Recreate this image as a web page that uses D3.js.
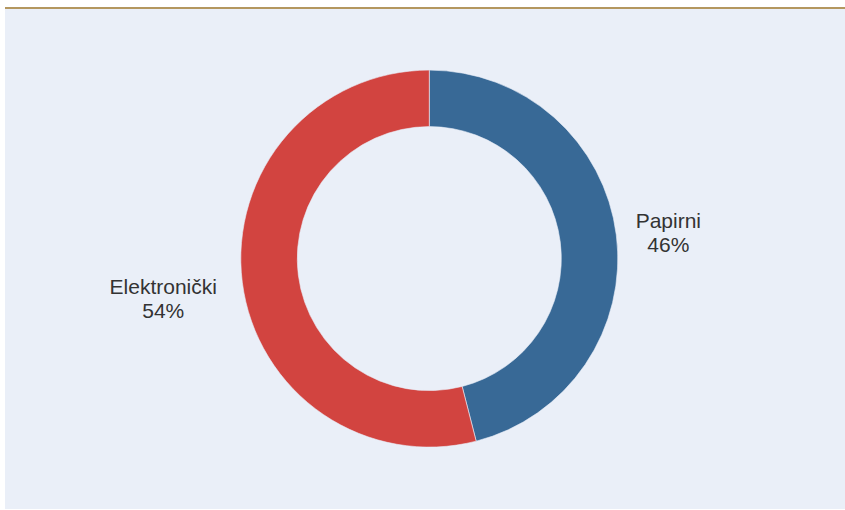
<!DOCTYPE html>
<html>
<head>
<meta charset="utf-8">
<script src="https://cdn.jsdelivr.net/npm/d3@7"></script>
<style>
  html, body { margin: 0; padding: 0; background: #fff; }
</style>
</head>
<body>
<div id="chart"></div>
<script>
// podaci
const categories = ["Papirni", "Elektronički"];
const shares = [46, 54];
const sliceColors = ["#386996", "#D24440"];

const width = 845;
const height = 510;

const svg = d3.select("#chart").append("svg")
    .attr("width", width)
    .attr("height", height)
    .style("display", "block")
    .style("font-family", "'Liberation Sans', Arial, Helvetica, sans-serif");

// pozadina panela
svg.append("rect")
    .attr("x", 5).attr("y", 7)
    .attr("width", width - 5).attr("height", 502)
    .attr("fill", "#EAEFF8");

svg.append("line")
    .attr("x1", 5).attr("x2", width)
    .attr("y1", 8).attr("y2", 8)
    .attr("stroke", "#B4975F")
    .attr("stroke-width", 2);

const cx = 429.3, cy = 258.6;
const outerR = 188.5, innerR = 132;

const data = categories.map((c, i) => ({ name: c, value: shares[i], color: sliceColors[i] }));

const pie = d3.pie().sort(null).value(d => d.value);
const arc = d3.arc().innerRadius(innerR).outerRadius(outerR);
const labelArc = d3.arc().innerRadius(208).outerRadius(208);

const g = svg.append("g").attr("transform", `translate(${cx},${cy})`);

const arcs = pie(data);

g.selectAll("path")
    .data(arcs)
    .join("path")
    .attr("d", arc)
    .attr("fill", d => d.data.color)
    .attr("stroke", "#EAEFF8")
    .attr("stroke-width", 0.6);

// labele
const fontSize = 21;
const lineH = 24;
const nudge = { "Papirni": [0, 0], "Elektronički": [-6, 14] }; // pomak labela

arcs.forEach(d => {
    const [lx, ly] = labelArc.centroid(d);
    const mid = (d.startAngle + d.endAngle) / 2;
    const right = Math.sin(mid) > 0;
    const t = g.append("text")
        .style("font-size", fontSize + "px")
        .attr("fill", "#333333")
        .attr("text-anchor", "middle");
    const lines = [d.data.name, d.data.value + "%"];
    lines.forEach((s, i) => {
        t.append("tspan").attr("x", 0).attr("dy", i === 0 ? 0 : lineH).text(s);
    });
    const w = d3.max(t.selectAll("tspan").nodes(), n => n.getComputedTextLength());
    const [nx, ny] = nudge[d.data.name];
    const x = (right ? lx + w / 2 : lx - w / 2) + nx;
    const y = ly + ny - lineH / 2 + fontSize * 0.36;
    t.attr("transform", `translate(${x},${y})`);
});
</script>
</body>
</html>
